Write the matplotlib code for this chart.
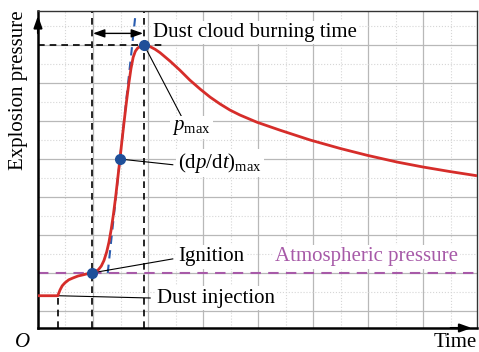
import matplotlib
matplotlib.use("Agg")
import matplotlib.pyplot as plt

# pressure trace (time and pressure in grid units)
time = [0.00, 0.36, 0.40, 0.44, 0.49, 0.56, 0.64, 0.73, 0.82, 0.90, 0.98,
        1.05, 1.10, 1.15, 1.20, 1.25, 1.29, 1.33, 1.37, 1.41, 1.45, 1.49,
        1.53, 1.57, 1.61, 1.65, 1.69, 1.73, 1.77, 1.81, 1.85, 1.89, 1.93,
        2.04, 2.13, 2.22, 2.40, 2.58, 2.76, 2.95, 3.13, 3.31, 3.49, 3.67,
        3.98, 4.40, 4.95, 5.49, 5.98, 6.53, 7.00, 7.49, 7.98]
pressure = [0.40, 0.40, 0.55, 0.66, 0.74, 0.82, 0.87, 0.92, 0.95, 0.98, 1.00,
            1.04, 1.09, 1.18, 1.33, 1.56, 1.81, 2.14, 2.53, 2.98, 3.49, 4.00,
            4.53, 5.04, 5.53, 5.98, 6.38, 6.68, 6.84, 6.92, 6.96, 6.99, 7.00,
            6.96, 6.89, 6.80, 6.58, 6.34, 6.08, 5.84, 5.63, 5.45, 5.29, 5.16,
            4.97, 4.76, 4.50, 4.28, 4.10, 3.92, 3.79, 3.67, 3.56]

i_inject, i_ignite, i_rate, i_peak = 1, 10, 21, 32
atm_pressure = 1.0
max_slope = 13.5

RED = "#d62d2a"
BLUE = "#1f4f99"
PURPLE = "#a75aa8"

plt.rcParams["font.family"] = ["Liberation Serif", "DejaVu Serif"]
plt.rcParams["mathtext.fontset"] = "custom"
plt.rcParams["mathtext.rm"] = "Liberation Serif"
plt.rcParams["mathtext.it"] = "Liberation Serif:italic"

fig = plt.figure(figsize=(4.79, 3.52), dpi=100)
ax = fig.add_axes([0.0793, 0.0682, 0.9165, 0.9006])
ax.set_xlim(0, 7.98)
ax.set_ylim(-0.45, 7.9)

ax.set_xticks(range(1, 8))
ax.set_xticks([k + 0.5 for k in range(8)], minor=True)
ax.set_yticks(range(0, 8))
ax.set_yticks([k + 0.5 for k in range(8)], minor=True)
ax.tick_params(which="both", length=0, labelbottom=False, labelleft=False)
ax.grid(which="major", color="#b8b8b8", lw=0.9)
ax.grid(which="minor", color="#d6d6d6", lw=0.8, ls=":")
ax.set_axisbelow(True)
for side in ("left", "bottom"):
    ax.spines[side].set_linewidth(1.8)
    ax.spines[side].set_color("black")
for side in ("top", "right"):
    ax.spines[side].set_linewidth(1.0)
    ax.spines[side].set_color("#333333")

dash = dict(color="black", lw=1.2, ls=(0, (4, 3)))
t_inj, p_inj = time[i_inject], pressure[i_inject]
t_ign, p_ign = time[i_ignite], pressure[i_ignite]
t_rate, p_rate = time[i_rate], pressure[i_rate]
t_pk, p_pk = time[i_peak], pressure[i_peak]

ax.plot([t_inj, t_inj], [-0.45, p_inj], **dash)
ax.axvline(t_ign, **dash)
ax.axvline(t_pk, **dash)
ax.plot([0, t_pk + 0.32], [p_pk, p_pk], **dash)
ax.axhline(atm_pressure, color=PURPLE, lw=1.5, ls=(0, (5, 3.5)))

# tangent at the steepest point
ty = [atm_pressure, 7.85]
tx = [t_rate + (y - p_rate) / max_slope for y in ty]
ax.plot(tx, ty, color="#2a5db0", lw=1.5, ls=(0, (4, 3)), zorder=3)

ax.plot(time, pressure, color=RED, lw=2.0, zorder=4, solid_capstyle="butt")
ax.plot([t_ign, t_rate, t_pk], [p_ign, p_rate, p_pk], "o", color=BLUE,
        ms=7, zorder=5)

# burning time arrow
ax.annotate("", xy=(t_ign + 0.02, 7.31), xytext=(t_pk - 0.02, 7.31),
            arrowprops=dict(arrowstyle="<|-|>,head_length=0.7,head_width=0.25",
                            color="black", lw=1.0, shrinkA=0, shrinkB=0))

box = dict(facecolor="white", edgecolor="none", pad=1.5)
ax.text(2.09, 7.33, "Dust cloud burning time", fontsize=15, va="center",
        ha="left", bbox=box, zorder=6)

lead = dict(color="black", lw=0.8, zorder=3)
ax.plot([t_pk, 2.62], [p_pk, 5.09], **lead)
ax.text(2.44, 4.83, r"$p_{\mathrm{max}}$", fontsize=15, va="center",
        ha="left", bbox=box, zorder=6)
ax.plot([t_rate, 2.45], [p_rate, 3.85], **lead)
ax.text(2.55, 3.9, r"(d$p$/d$t$)$_{\mathrm{max}}$", fontsize=15, va="center",
        ha="left", bbox=box, zorder=6)
ax.plot([t_ign, 2.45], [p_ign, 1.37], **lead)
ax.text(2.55, 1.42, "Ignition", fontsize=15, va="center", ha="left",
        bbox=box, zorder=6)
ax.plot([t_inj, 2.04], [p_inj, 0.34], **lead)
ax.text(2.16, 0.34, "Dust injection", fontsize=15, va="center", ha="left",
        bbox=box, zorder=6)
ax.text(4.31, 1.42, "Atmospheric pressure", fontsize=15, va="center",
        ha="left", color=PURPLE, bbox=box, zorder=6)

# axis arrows
head = dict(arrowstyle="-|>,head_length=0.7,head_width=0.25", color="black",
            lw=1.5, shrinkA=0, shrinkB=0)
ax.annotate("", xy=(0, 0.985), xytext=(0, 0.93), xycoords="axes fraction",
            textcoords="axes fraction", arrowprops=head)
ax.annotate("", xy=(0.988, 0), xytext=(0.94, 0), xycoords="axes fraction",
            textcoords="axes fraction", arrowprops=head)

fig.text(0.038, 0.745, "Explosion pressure", fontsize=15, rotation=90,
         ha="center", va="center")
fig.text(0.046, 0.015, "O", fontsize=15, style="italic", ha="center",
         va="baseline")
fig.text(0.996, 0.015, "Time", fontsize=15, ha="right", va="baseline")

fig.savefig("out.png", dpi=100)
